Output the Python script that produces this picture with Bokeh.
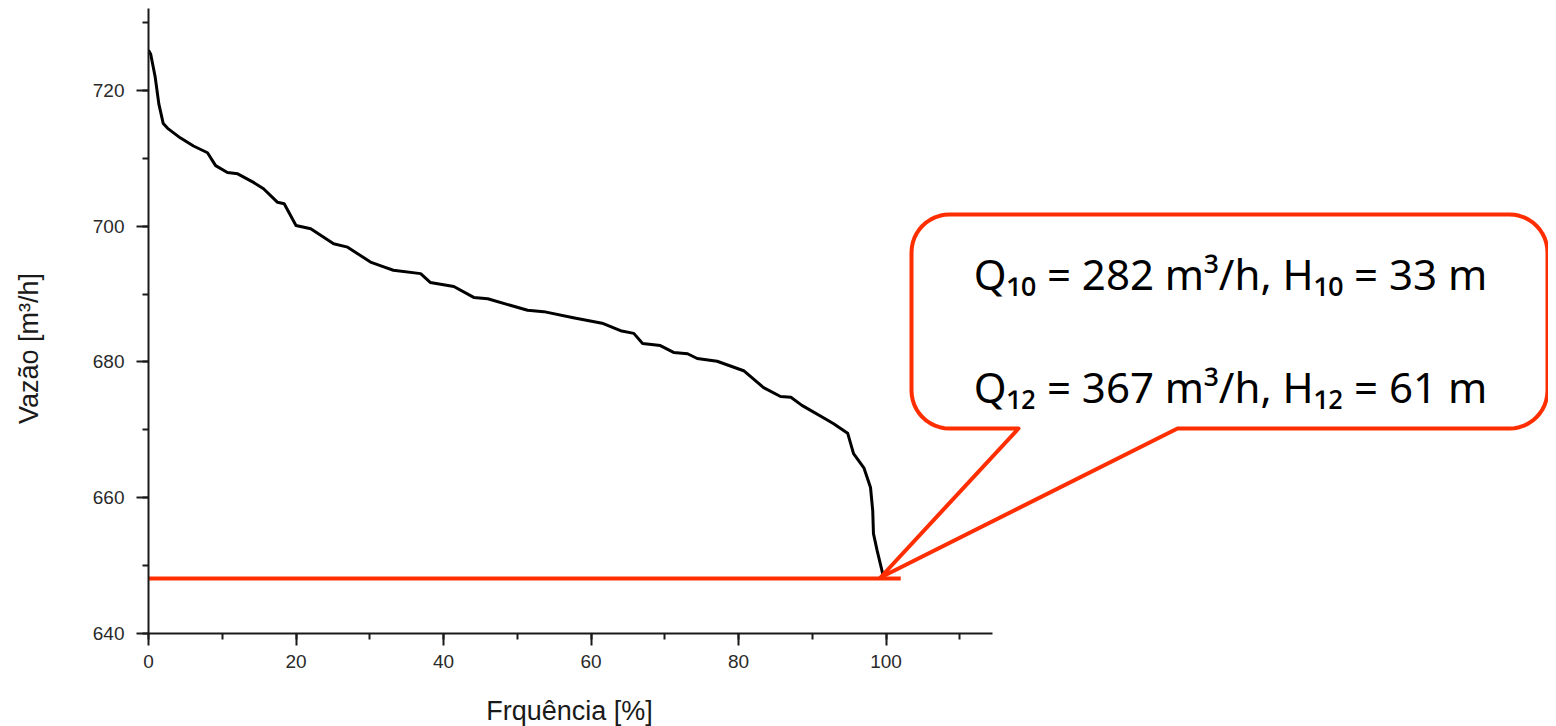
import math
from bokeh.plotting import figure
from bokeh.models import Range1d, SingleIntervalTicker, Label
from bokeh.embed import file_html
from bokeh.resources import INLINE

# ---- data ----
freq = [0.0, 0.3, 0.9, 1.4, 2.0, 2.6, 4.3, 6.1, 8.0, 9.1, 10.7, 12.1, 14.3, 15.6,
        17.5, 18.4, 20.0, 22.0, 25.1, 27.0, 30.1, 31.9, 33.2, 36.9, 38.2, 41.4,
        44.1, 46.0, 51.4, 53.6, 57.6, 61.5, 64.0, 65.8, 67.0, 69.4, 71.2, 73.1,
        74.4, 77.1, 80.7, 83.4, 85.7, 87.1, 88.6, 92.1, 92.9, 94.8, 95.6, 97.0,
        97.9, 98.2, 98.3, 98.8, 99.6]
vazao = [725.9, 725.3, 722.0, 718.0, 715.1, 714.4, 713.0, 711.8, 710.8, 708.9,
         707.9, 707.7, 706.4, 705.5, 703.5, 703.3, 700.1, 699.6, 697.4, 696.9,
         694.7, 694.0, 693.5, 693.0, 691.7, 691.1, 689.5, 689.3, 687.6, 687.4,
         686.5, 685.7, 684.6, 684.2, 682.7, 682.4, 681.4, 681.2, 680.5, 680.1,
         678.7, 676.2, 674.9, 674.8, 673.6, 671.4, 670.9, 669.5, 666.5, 664.4,
         661.5, 658.1, 654.7, 652.2, 648.6]
ref_x = [-1.0, 102.0]
ref_y = [648.1, 648.1]

x_bounds = (0, 114.5)
y_bounds = (640, 732)
x_label = "Frquência [%]"
y_label = "Vazão [m³/h]"
note_lines = ["Q\u2081\u2080 = 282 m³/h, H\u2081\u2080 = 33 m",
              "Q\u2081\u2082 = 367 m³/h, H\u2081\u2082 = 61 m"]

# ---- layout helpers (page pixels -> data) ----
FL, FT, FW, FH = 148, 8, 1400, 625
SX, SY = 7.375, 6.79
def dx(px):
    return (px - FL) / SX
def dy(py):
    return 640 + (FT + FH - py) / SY

RED = "#ff2e00"
AX = "#1a1a1a"

p = figure(width=FL + FW, height=726, output_backend="svg", toolbar_location=None,
           x_range=Range1d(0, FW / SX), y_range=Range1d(640, 640 + FH / SY),
           min_border_left=FL, min_border_right=0, min_border_top=FT,
           min_border_bottom=726 - FT - FH)
p.outline_line_color = None
p.xgrid.visible = False
p.ygrid.visible = False
p.background_fill_color = "white"
p.border_fill_color = "white"

for ax, b in ((p.xaxis[0], x_bounds), (p.yaxis[0], y_bounds)):
    ax.ticker = SingleIntervalTicker(interval=20, num_minor_ticks=2)
    ax.bounds = b
    ax.axis_line_width = 2
    ax.axis_line_color = AX
    ax.major_tick_line_width = 2
    ax.minor_tick_line_width = 2
    ax.major_tick_line_color = AX
    ax.minor_tick_line_color = AX
    ax.major_tick_in = 0
    ax.minor_tick_in = 0
    ax.major_tick_out = 12
    ax.minor_tick_out = 6
    ax.major_label_text_font = "Liberation Sans"
    ax.major_label_text_font_size = "19px"
    ax.major_label_text_color = "#2a2a2a"
p.xaxis[0].major_label_standoff = 9
p.yaxis[0].major_label_standoff = 12

# reference level and curve
p.line(ref_x, ref_y, line_color=RED, line_width=4)
p.line(freq, vazao, line_color="black", line_width=3, line_join="round")

# callout bubble (pixel geometry of the annotation)
L, R, T, B, r = 911, 1547, 214, 428, 38
b1, b2, tip = 1018, 1177, (880, 577)
pts = [(L + r, T), (R - r, T)]
def arc(cx, cy, a0, a1, n=12):
    return [(cx + r * math.cos(a0 + (a1 - a0) * i / n),
             cy + r * math.sin(a0 + (a1 - a0) * i / n)) for i in range(n + 1)]
pts += arc(R - r, T + r, -math.pi / 2, 0)
pts += arc(R - r, B - r, 0, math.pi / 2)
pts += [(b2, B), tip, (b1, B)]
pts += arc(L + r, B - r, math.pi / 2, math.pi)
pts += arc(L + r, T + r, math.pi, 3 * math.pi / 2)
p.patch([dx(a) for a, _ in pts], [dy(c) for _, c in pts], fill_color="white",
        line_color=RED, line_width=4, line_join="round")

for txt, py in zip(note_lines, (273, 386)):
    p.add_layout(Label(x=dx(1230), y=dy(py), text=txt, text_align="center",
                       text_baseline="middle", text_font="Noto Sans",
                       text_font_size="42px", text_color="black"))

# axis titles, placed in the side panels so they are not clipped by the frame
p.add_layout(Label(x=dx(569), y=dy(710), text=x_label, text_align="center",
                   text_baseline="middle", text_font="Liberation Sans",
                   text_font_size="27px", text_color="#1a1a1a"), "below")
p.add_layout(Label(x=dx(28), y=dy(348), text=y_label, text_align="center",
                   text_baseline="middle", text_font="Liberation Sans",
                   text_font_size="27px", text_color="#1a1a1a",
                   angle=math.pi / 2), "left")

open("out.html", "w").write(file_html(p, INLINE))
